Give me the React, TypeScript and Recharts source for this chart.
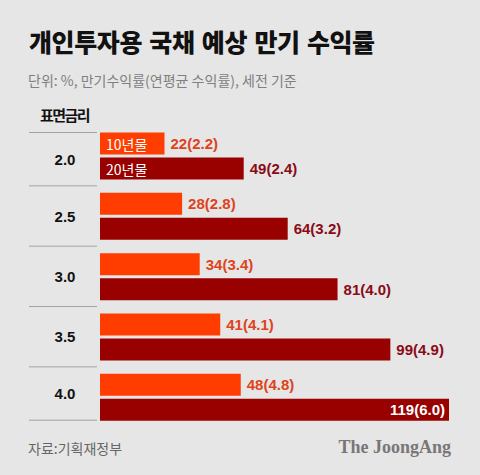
import React from "react"
import { Bar, BarChart, LabelList, XAxis, YAxis } from "recharts"

// 표면금리 (coupon rate) categories
const couponRates = ["2.0", "2.5", "3.0", "3.5", "4.0"]
// 만기수익률 (%) and 연평균 수익률 (%)
const tenYear = [22, 28, 34, 41, 48]
const tenYearAnnual = [2.2, 2.8, 3.4, 4.1, 4.8]
const twentyYear = [49, 64, 81, 99, 119]
const twentyYearAnnual = [2.4, 3.2, 4.0, 4.9, 6.0]
const seriesNames = ["10년물", "20년물"]

const rows = couponRates.map((rate, i) => ({
  rate,
  tenYear: tenYear[i],
  twentyYear: twentyYear[i],
  tenText: `${tenYear[i]}(${tenYearAnnual[i].toFixed(1)})`,
  twentyText: `${twentyYear[i]}(${twentyYearAnnual[i].toFixed(1)})`,
}))

const W = 480
const H = 475
const TOP = 125.5
const BOTTOM = 427.2
const RIGHT = 31
const CAT_GAP = 7
const BAND = (BOTTOM - TOP) / couponRates.length

const ORANGE = "#ff3d00"
const DARK = "#990000"
const KR = "'Noto Sans CJK KR', 'Noto Sans', sans-serif"
const NUM = "'Liberation Sans', Arial, sans-serif"

const CategoryTick = (props: any) => {
  const { y, payload, index } = props
  const last = couponRates.length - 1
  const half = BAND / 2
  const top = index === 0 ? y - half + CAT_GAP : y - half
  const bottom = index === last ? y + half - CAT_GAP : y + half
  return (
    <g>
      <line x1={29} x2={97} y1={top} y2={top} stroke="#a3a3a3" strokeWidth={1} />
      {index === last && <line x1={29} x2={97} y1={bottom} y2={bottom} stroke="#a3a3a3" strokeWidth={1} />}
      <text
        x={65}
        y={(top + bottom) / 2}
        textAnchor="middle"
        dominantBaseline="central"
        fontFamily={NUM}
        fontWeight="bold"
        fontSize={15}
        fill="#111"
      >
        {payload.value}
      </text>
    </g>
  )
}

const valueLabel = (color: string) => (props: any) => {
  const vb = props.viewBox ?? props
  const x = Number(props.x ?? vb.x)
  const y = Number(props.y ?? vb.y)
  const width = Number(props.width ?? vb.width)
  const height = Number(props.height ?? vb.height)
  const text = String(props.value)
  const end = x + width
  const inside = end + text.length * 8.4 + 6 > W - 10
  return (
    <text
      x={inside ? end - 4 : end + 6}
      y={y + height / 2}
      textAnchor={inside ? "end" : "start"}
      dominantBaseline="central"
      fontFamily={NUM}
      fontWeight="bold"
      fontSize={15}
      fill={inside ? "#fff" : color}
    >
      {text}
    </text>
  )
}

const nameLabel = (name: string) => (props: any) => {
  if (props.index !== 0) return null
  const vb = props.viewBox ?? props
  const x = Number(props.x ?? vb.x)
  const y = Number(props.y ?? vb.y)
  const height = Number(props.height ?? vb.height)
  return (
    <text x={x + 6} y={y + height / 2} dominantBaseline="central" fontFamily={KR} fontSize={14} fill="#fff">
      {name}
    </text>
  )
}

export default function App() {
  return (
    <div style={{ position: "absolute", left: 0, top: 0, width: W, height: H, background: "#e6e6e6", overflow: "hidden" }}>
      <div style={{ position: "absolute", left: 0, top: 0 }}>
        <BarChart
          layout="vertical"
          width={W}
          height={H}
          data={rows}
          margin={{ top: TOP, right: RIGHT, bottom: H - BOTTOM, left: 0 }}
          barCategoryGap={CAT_GAP}
          barGap={3}
        >
          <XAxis type="number" hide domain={[0, "dataMax"]} />
          <YAxis
            type="category"
            dataKey="rate"
            width={100}
            axisLine={false}
            tickLine={false}
            interval={0}
            tick={(p: any) => <CategoryTick {...p} />}
          />
          <Bar dataKey="tenYear" fill={ORANGE} isAnimationActive={false}>
            <LabelList dataKey="tenText" content={valueLabel("#de431c")} />
            <LabelList dataKey="tenText" content={nameLabel(seriesNames[0])} />
          </Bar>
          <Bar dataKey="twentyYear" fill={DARK} isAnimationActive={false}>
            <LabelList dataKey="twentyText" content={valueLabel("#8a0b17")} />
            <LabelList dataKey="twentyText" content={nameLabel(seriesNames[1])} />
          </Bar>
        </BarChart>
      </div>
      <svg width={W} height={H} style={{ position: "absolute", left: 0, top: 0, pointerEvents: "none" }}>
        <text x={29} y={52} fontFamily={KR} fontWeight={900} fontSize={25} letterSpacing={-0.4} wordSpacing={2} fill="#111">
          개인투자용 국채 예상 만기 수익률
        </text>
        <text x={28} y={86} fontFamily={KR} fontSize={14} fill="#808080">
          단위: %, 만기수익률(연평균 수익률), 세전 기준
        </text>
        <text x={64.5} y={121} textAnchor="middle" fontFamily={KR} fontWeight="bold" fontSize={15} letterSpacing={-1.5} fill="#111">
          표면금리
        </text>
        <text x={28} y={454} fontFamily={KR} fontSize={14} fill="#666">
          자료:기획재정부
        </text>
        <text x={451} y={453} textAnchor="end" fontFamily="'Liberation Serif', 'DejaVu Serif', serif" fontWeight="bold" fontSize={18} fill="#777">
          The JoongAng
        </text>
      </svg>
    </div>
  )
}
